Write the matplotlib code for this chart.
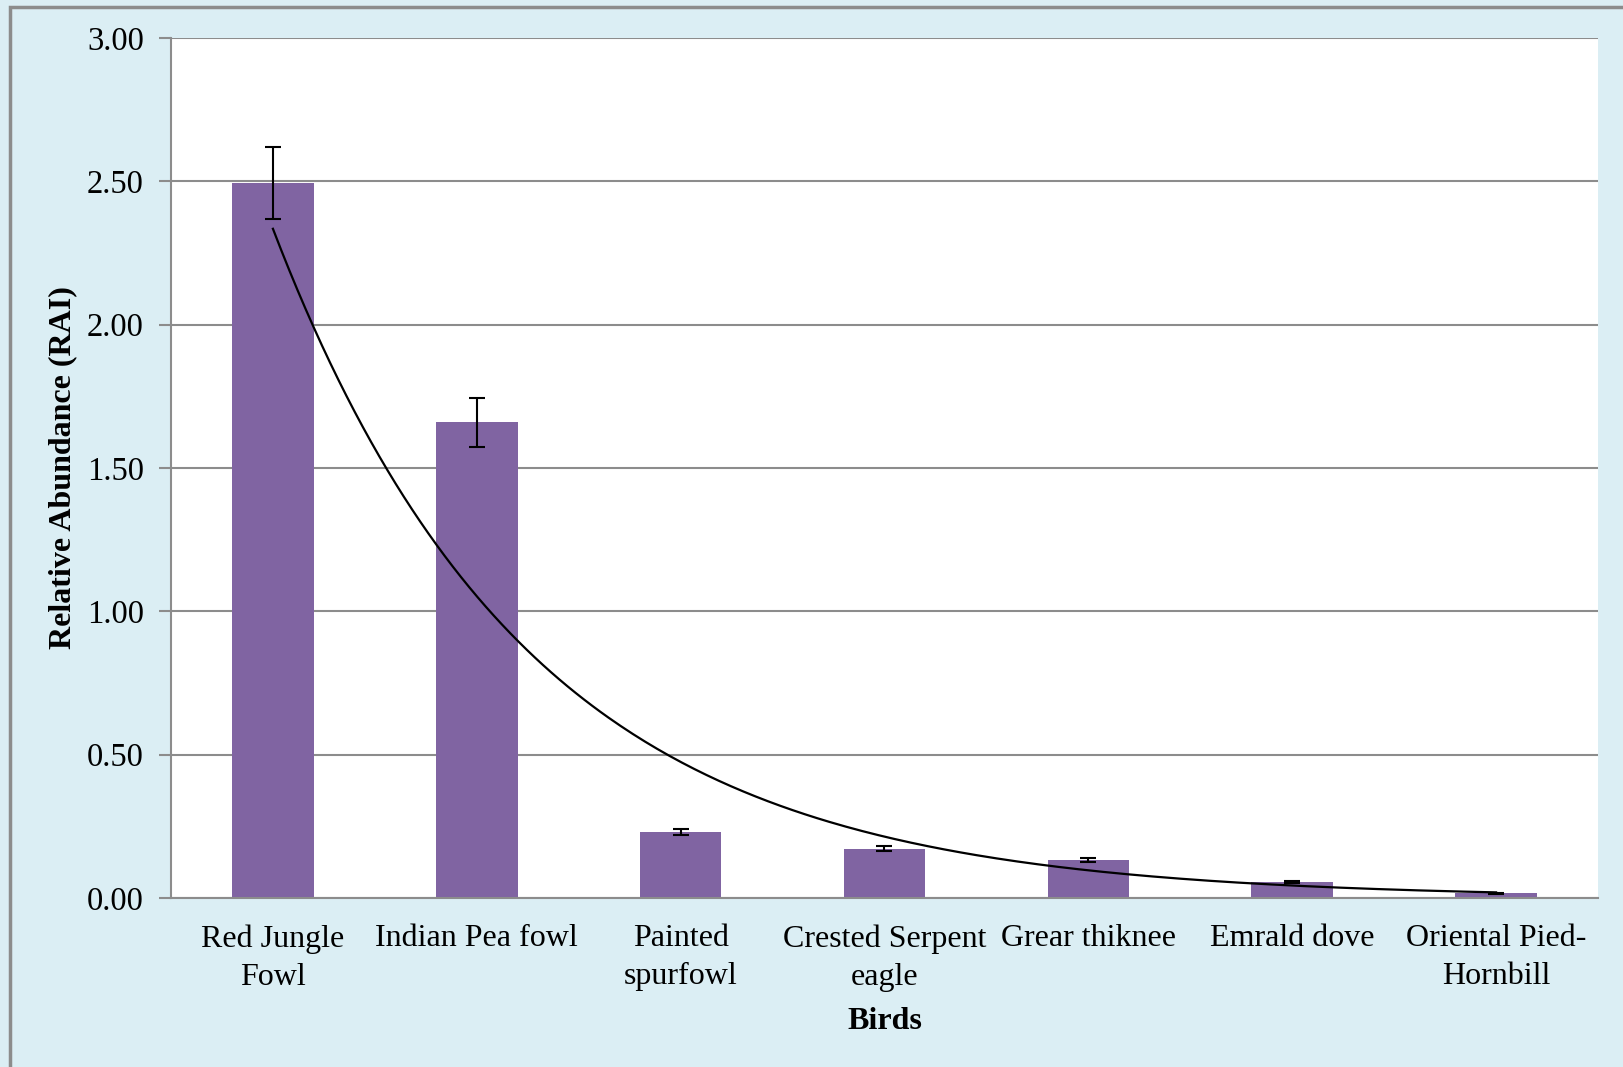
import numpy as np
import matplotlib.pyplot as plt
from matplotlib.patches import Rectangle

birds = ["Red Jungle\nFowl", "Indian Pea fowl", "Painted\nspurfowl",
         "Crested Serpent\neagle", "Grear thiknee", "Emrald dove",
         "Oriental Pied-\nHornbill"]
rai = [2.495, 1.66, 0.23, 0.172, 0.132, 0.056, 0.017]
rai_err = [0.125, 0.085, 0.010, 0.008, 0.006, 0.004, 0.002]

W, H = 1623, 1067
plt.rcParams['font.family'] = ['Liberation Serif', 'DejaVu Serif']

fig = plt.figure(figsize=(W / 100, H / 100), dpi=100)
fig.patch.set_facecolor('#DBEEF4')

# outer chart border (only left and top visible)
fig.patches.append(Rectangle((10 / W, -0.05), 1.2, (H - 7) / H + 0.05,
                             transform=fig.transFigure, fill=False,
                             edgecolor='#8C8C8C', linewidth=2.5))

ax = fig.add_axes([171 / W, 1 - 898 / H, (1598 - 171) / W, (898 - 38) / H])
ax.set_facecolor('white')

x = np.arange(1, len(birds) + 1)
ax.bar(x, rai, width=0.4, color='#8064A2', zorder=2)
ax.errorbar(x, rai, yerr=rai_err, fmt='none', ecolor='black',
            elinewidth=1.5, capsize=6, capthick=1.5, zorder=3)

# exponential trendline (least squares on log values, like Excel)
b, a = np.polyfit(x, np.log(rai), 1)
xt = np.linspace(1, len(birds), 300)
ax.plot(xt, np.exp(a + b * xt), color='black', linewidth=1.6, zorder=4)

ax.set_xlim(0.5, len(birds) + 0.5)
ax.set_ylim(0, 3.0)
ax.set_yticks(np.arange(0, 3.01, 0.5))
ax.set_yticklabels([f"{v:.2f}" for v in np.arange(0, 3.01, 0.5)])
ax.set_xticks(x)
ax.set_xticklabels(birds, fontsize=23, linespacing=1.4)
ax.tick_params(axis='y', labelsize=23.5, length=9, color='#8C8C8C', width=1.5, pad=10.5)
ax.tick_params(axis='x', length=0, pad=19)
ax.grid(axis='y', color='#8C8C8C', linewidth=1.5, zorder=0)
ax.set_axisbelow(True)

for s in ['top', 'right']:
    ax.spines[s].set_visible(False)
for s in ['left', 'bottom']:
    ax.spines[s].set_color('#8C8C8C')
    ax.spines[s].set_linewidth(1.5)

ax.set_ylabel('Relative Abundance (RAI)', fontsize=23, fontweight='bold', labelpad=7)
ax.set_xlabel('Birds', fontsize=23, fontweight='bold', labelpad=11)

fig.savefig('out.png', dpi=100, facecolor=fig.get_facecolor())
